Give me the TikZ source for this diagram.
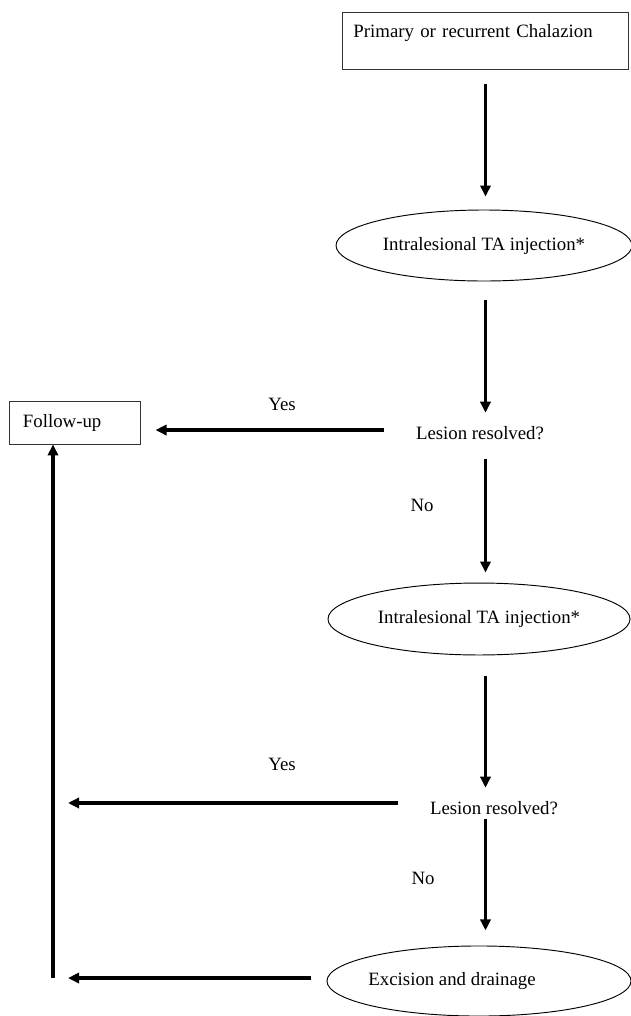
\documentclass[tikz,border=0pt]{standalone}
\usepackage{fontspec}
\setmainfont{Liberation Serif}
\usetikzlibrary{arrows.meta,shapes}

\begin{document}
\begin{tikzpicture}[x=0.638pt,y=-0.638pt]
                \tikzstyle{box}=[rectangle, draw=black!80, line width=0.6pt, font=\fontsize{12}{14}\selectfont]
                \tikzstyle{treat}=[ellipse, draw=black, line width=0.6pt, inner sep=0pt, font=\fontsize{12}{14}\selectfont]
                \tikzstyle{check}=[rectangle, inner sep=0pt, minimum width=122.5pt, minimum height=25.5pt, font=\fontsize{12}{14}\selectfont]
                \tikzstyle{answer}=[font=\fontsize{12}{14}\selectfont]
                \tikzstyle{connect}=[line width=2.2pt, -{Triangle[length=7pt,width=6.5pt]}]
                \useasboundingbox (0,0) rectangle (631,1016);
                \node[box, anchor=north west, inner xsep=7pt, inner ysep=0pt, text width=168.5pt, align=left, text height=16pt, text depth=20.4pt] (start) at (342,12){Primary or recurrent Chalazion};
                \node[treat, minimum width=188.8pt, minimum height=45.3pt] (inj1) at (484,245.5){Intralesional TA injection*};
                \node[check] (res1) at (480,433){Lesion resolved?};
                \node[box, inner xsep=8.3pt, text width=66.4pt, align=left, minimum height=27.4pt] (follow) at (75,422.5){Follow-up};
                \node[treat, minimum width=192.7pt, minimum height=45.9pt] (inj2) at (479,619){Intralesional TA injection*};
                \node[check] (res2) at (494,808){Lesion resolved?};
                \node[treat, minimum width=194pt, minimum height=44.7pt] (exc) at (479,981){\hspace*{-34.4pt}Excision and drainage};
    \node[answer] (yes1) at (282,404){Yes};
                \node[answer] (no1) at (422,505){No};
                \node[answer] (yes2) at (282,764){Yes};
                \node[answer] (no2) at (423,878){No};
                \coordinate (corner) at (53,978);
                \path (start.south) edge [connect, shorten <=8.9pt, shorten >=8.3pt] (inj1.north -| start);
                \path (inj1.south -| start) edge [connect, shorten <=12.1pt] (res1.north -| start);
                \path (res1.south -| start) edge [connect, shorten <=3.8pt, shorten >=6.4pt] (inj2.north -| start);
                \path (inj2.south -| start) edge [connect, shorten <=12.8pt] (res2.north -| start);
                \path (res2.south -| start) edge [connect, shorten <=-5.7pt, shorten >=9.6pt] (exc.north -| start);
                \path ([yshift=1.9pt]res1.west) edge [connect, shorten >=9.6pt] ([yshift=1.9pt]res1.west -| follow.east);
                \path ([yshift=3.2pt]res2.west) edge [connect, shorten >=9.6pt] ([yshift=3.2pt]res2.west -| corner);
                \path ([yshift=1.9pt]exc.west) edge [connect, shorten <=9.6pt, shorten >=9.6pt] ([yshift=1.9pt]exc.west -| corner);
                \path (corner) edge [connect] (corner |- follow.south);
    
    \end{tikzpicture}
\end{document}
